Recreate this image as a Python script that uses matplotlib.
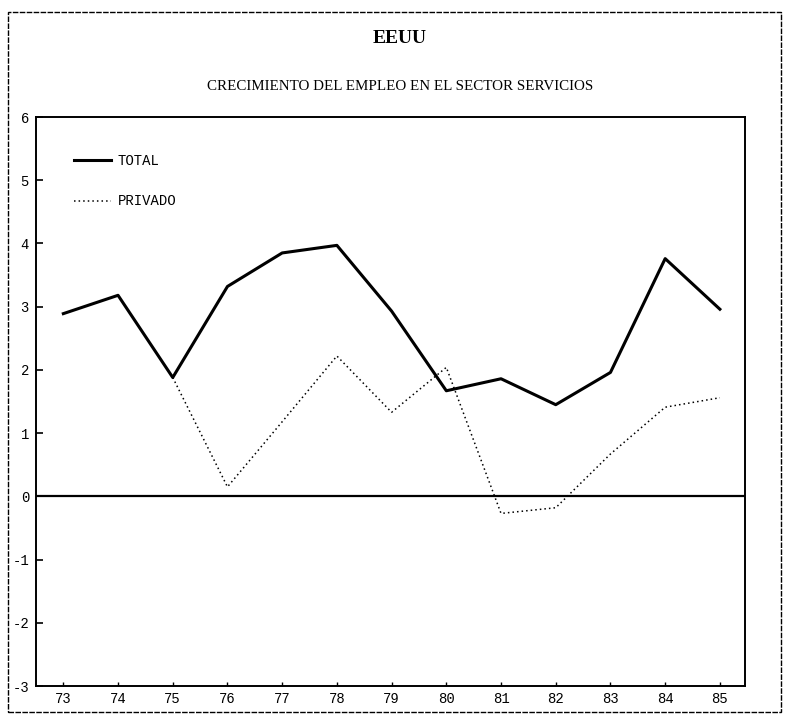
import matplotlib
matplotlib.use("Agg")

import numpy as np
import matplotlib.pyplot as plt
from matplotlib.patches import Rectangle

# =========================
# Datos
# =========================
YEARS = [73, 74, 75, 76, 77, 78, 79, 80, 81, 82, 83, 84, 85]
TOTAL = [2.89, 3.18, 1.88, 3.32, 3.85, 3.97, 2.93, 1.67, 1.86, 1.45, 1.96, 3.76, 2.96]
PRIVADO = [np.nan, np.nan, 1.88, 0.15, 1.18, 2.22, 1.33, 2.04, -0.27, -0.18, 0.67, 1.41, 1.56]
Y_TICKS = [-3, -2, -1, 0, 1, 2, 3, 4, 5, 6]

TITLE = "EEUU"
SUBTITLE = "CRECIMIENTO DEL EMPLEO EN EL SECTOR SERVICIOS"

MONO = ["Liberation Mono", "DejaVu Sans Mono"]
SERIF = ["Liberation Serif", "DejaVu Serif"]

fig = plt.figure(figsize=(7.87, 7.17), dpi=100)
fig.patch.set_facecolor("white")

# marco exterior
fig.add_artist(Rectangle((0.010, 0.007), 0.982, 0.976, transform=fig.transFigure,
                         fill=False, edgecolor="black", lw=1.0, linestyle=(0, (4, 1))))

ax = fig.add_axes([0.0457, 0.0432, 0.901, 0.7936])

ax.plot(YEARS, TOTAL, color="black", lw=2.2, label="TOTAL")
ax.plot(YEARS, PRIVADO, color="black", lw=1.1, linestyle=(0, (1, 2)), label="PRIVADO")
ax.axhline(0, color="black", lw=1.6)

ax.set_xlim(72.5, 85.46)
ax.set_ylim(-3, 6)

ax.set_xticks(YEARS)
ax.set_xticklabels([str(y) for y in YEARS], family=MONO, fontsize=10)
ax.set_yticks(Y_TICKS)
ax.set_yticklabels([str(v) for v in Y_TICKS], family=MONO, fontsize=10)
ax.tick_params(axis="y", direction="in", length=5, width=1.2, pad=5)
ax.tick_params(axis="x", direction="in", length=3, width=1.0, pad=4)

for side in ["left", "right", "top", "bottom"]:
    ax.spines[side].set_linewidth(1.4)

ax.legend(loc="upper left", bbox_to_anchor=(0.036, 0.957), frameon=False,
          handlelength=2.7, labelspacing=1.9, handletextpad=0.45,
          prop={"family": MONO, "size": 10})

fig.text(0.508, 0.946, TITLE, ha="center", va="center",
         family=SERIF, fontsize=14, fontweight="bold")
fig.text(0.508, 0.880, SUBTITLE, ha="center", va="center",
         family=SERIF, fontsize=10.8)

fig.savefig("out.png", dpi=100, facecolor="white")
